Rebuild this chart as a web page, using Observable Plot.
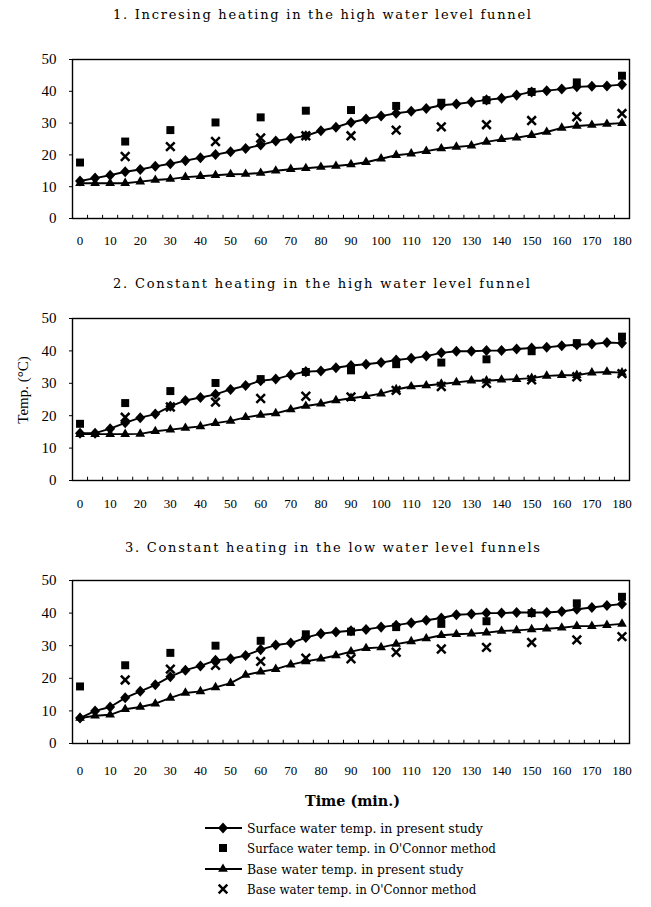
<!DOCTYPE html>
<html>
<head>
<meta charset="utf-8">
<script src="https://cdn.jsdelivr.net/npm/d3@7"></script>
<script src="https://cdn.jsdelivr.net/npm/@observablehq/plot@0.6"></script>
<style>
  html, body { margin: 0; padding: 0; background: #fff; }
  #chart { position: relative; width: 651px; height: 907px; background: #fff; overflow: hidden; }
  #chart svg.panel { position: absolute; left: 0; }
  #chart svg.panel g[aria-label^="y-axis"] text { font-size: 15px; }
  #chart svg.panel g[aria-label^="x-axis"] text { font-size: 13px; }
  #overlay { position: absolute; left: 0; top: 0; }
</style>
</head>
<body>
<div id="chart"></div>
<script>
// ---------------- data ----------------
const minutes = [0,5,10,15,20,25,30,35,40,45,50,55,60,65,70,75,80,85,90,95,100,105,110,115,120,125,130,135,140,145,150,155,160,165,170,175,180];
const squareMinutes = [0,15,30,45,60,75,90,105,120,135,150,165,180];
const crossMinutes = [15,30,45,60,75,90,105,120,135,150,165,180];
const xTickLabels = [0,10,20,30,40,50,60,70,80,90,100,110,120,130,140,150,160,170,180];
const xTickMarks = [2.5,7.5,12.5,17.5,22.5,27.5,32.5,37.5,42.5,47.5,52.5,57.5,62.5,67.5,72.5,77.5,82.5,87.5,92.5,97.5,102.5,107.5,112.5,117.5,122.5,127.5,132.5,137.5,142.5,147.5,152.5,157.5,162.5,167.5,172.5,177.5];
const yTicks = [0,10,20,30,40,50];

const panelTitles = [
  "1. Incresing heating in the high water level funnel",
  "2. Constant heating in the high water level funnel",
  "3. Constant heating in the low water level funnels"
];
const seriesNames = [
  "Surface water temp. in present study",
  "Surface water temp. in O'Connor method",
  "Base water temp. in present study",
  "Base water temp. in O'Connor method"
];
const yAxisTitle = "Temp.  (\u00B0C)";
const xAxisTitle = "Time (min.)";

// Panel 1: increasing heating, high water level
const p1Surface = [11.8,12.7,13.6,14.7,15.4,16.4,17.2,18.2,19.1,20.1,21.0,22.0,23.1,24.4,25.2,26.0,27.6,28.7,30.2,31.3,32.2,33.1,33.7,34.6,35.6,36.0,36.6,37.3,37.8,38.8,39.8,40.2,40.7,41.4,41.6,41.7,42.1];
const p1Base    = [11.1,11.1,11.1,11.1,11.6,12.1,12.4,13.0,13.3,13.6,13.9,14.0,14.3,15.0,15.5,15.8,16.2,16.5,17.0,17.7,18.8,19.9,20.4,21.2,22.0,22.5,22.9,24.1,24.9,25.4,26.2,27.2,28.5,29.1,29.4,29.7,30.0];
const p1SurfOC  = [17.6,24.2,27.8,30.2,31.8,33.9,34.1,35.4,36.4,37.2,39.8,42.8,44.9];
const p1BaseOC  = [19.5,22.6,24.2,25.3,26.0,26.0,27.8,28.8,29.5,30.8,32.0,33.0];

// Panel 2: constant heating, high water level
const p2Surface = [14.6,14.6,16.0,17.8,19.4,20.5,22.9,24.7,25.6,26.6,28.1,29.3,30.8,31.3,32.6,33.6,33.8,34.8,35.5,35.9,36.4,37.2,37.7,38.4,39.4,39.9,39.9,40.1,40.1,40.6,40.9,41.1,41.6,41.9,42.1,42.6,42.4];
const p2Base    = [14.3,14.3,14.3,14.3,14.4,15.2,15.7,16.2,16.7,17.7,18.4,19.5,20.2,20.7,21.9,23.0,23.7,24.7,25.4,26.0,26.8,28.1,29.0,29.3,29.8,30.3,30.8,30.8,31.1,31.3,31.6,32.3,32.5,32.5,33.3,33.5,33.3];
const p2SurfOC  = [17.5,23.9,27.6,30.1,31.3,33.5,34.0,35.9,36.4,37.4,39.9,42.4,44.4];
const p2BaseOC  = [19.5,22.7,24.2,25.3,26.0,25.8,27.8,29.0,30.0,31.1,32.0,33.0];

// Panel 3: constant heating, low water level
const p3Surface = [7.8,10.0,11.2,14.0,16.0,18.0,20.5,22.5,23.8,25.5,26.0,27.0,28.8,30.2,30.8,32.5,33.7,34.2,34.6,35.0,35.7,36.3,37.0,37.8,38.5,39.5,39.7,40.0,40.0,40.2,40.2,40.2,40.5,41.2,41.7,42.3,42.8];
const p3Base    = [7.8,8.5,8.8,10.5,11.2,12.2,14.0,15.5,16.0,17.2,18.5,21.0,22.0,22.8,24.2,25.2,26.0,27.0,28.2,29.2,29.5,30.5,31.3,32.2,33.2,33.5,33.7,34.0,34.5,34.7,35.0,35.2,35.5,36.0,36.0,36.3,36.7];
const p3SurfOC  = [17.5,24.0,27.8,30.0,31.5,33.5,34.3,35.7,36.7,37.5,40.0,43.0,45.0];
const p3BaseOC  = [19.5,22.8,24.0,25.2,26.2,26.0,28.0,29.0,29.5,31.0,31.8,32.8];

// ---------------- helpers ----------------
const FONT = "'Liberation Serif', 'DejaVu Serif', serif";
const TEXT_FONT = "'DejaVu Serif', 'Liberation Serif', serif";

// Excel-like diamond marker (about as wide as it is tall)
const excelDiamond = {
  draw(context, size) {
    const a = Math.sqrt(size / 2);
    context.moveTo(0, -a * 1.1);
    context.lineTo(a, 0);
    context.lineTo(0, a * 1.1);
    context.lineTo(-a, 0);
    context.closePath();
  }
};

const toRows = (ts, vs) => ts.map((t, i) => ({t, v: vs[i]}));

function panel({surface, base, surfOC, baseOC, top, innerHeight, labelPad}) {
  const mt = 19, mb = 44;
  const svg = Plot.plot({
    width: 651,
    height: mt + innerHeight + mb,
    marginLeft: 72,
    marginRight: 22,
    marginTop: mt,
    marginBottom: mb,
    style: {fontFamily: FONT, fontSize: "13px", color: "black", background: "white", overflow: "visible"},
    x: {domain: [-2.5, 182.5], ticks: xTickLabels, tickSize: 0, tickPadding: labelPad, tickFormat: d => String(d), label: null},
    y: {domain: [0, 50], ticks: yTicks, tickSize: 3, tickPadding: 13, tickFormat: d => String(d), label: null},
    marks: [
      Plot.ruleX(xTickMarks, {x: d => d, y1: 0, y2: 1, stroke: "black", strokeWidth: 1}),
      Plot.frame({stroke: "black", strokeWidth: 1.4}),
      Plot.line(toRows(minutes, base), {x: "t", y: "v", stroke: "black", strokeWidth: 1.9}),
      Plot.line(toRows(minutes, surface), {x: "t", y: "v", stroke: "black", strokeWidth: 1.9}),
      Plot.dot(toRows(squareMinutes, surfOC), {x: "t", y: "v", symbol: "square", r: 4.5, fill: "black", stroke: "none"}),
      Plot.dot(toRows(crossMinutes, baseOC), {x: "t", y: "v", symbol: "times", r: 4, fill: "none", stroke: "black", strokeWidth: 2.5}),
      Plot.dot(toRows(minutes, base), {x: "t", y: "v", symbol: "triangle", r: 3.6, fill: "black", stroke: "none"}),
      Plot.dot(toRows(minutes, surface), {x: "t", y: "v", symbol: excelDiamond, r: 4, fill: "black", stroke: "none"})
    ]
  });
  svg.classList.add("panel");
  svg.style.top = (top - mt) + "px";
  return svg;
}

const chart = document.getElementById("chart");
chart.appendChild(panel({surface: p1Surface, base: p1Base, surfOC: p1SurfOC, baseOC: p1BaseOC, top: 59, innerHeight: 159, labelPad: 17}));
chart.appendChild(panel({surface: p2Surface, base: p2Base, surfOC: p2SurfOC, baseOC: p2BaseOC, top: 318, innerHeight: 162, labelPad: 18}));
chart.appendChild(panel({surface: p3Surface, base: p3Base, surfOC: p3SurfOC, baseOC: p3BaseOC, top: 580, innerHeight: 163, labelPad: 22}));

// ---------------- titles, axis titles, legend ----------------
const overlay = d3.select(chart).append("svg")
  .attr("id", "overlay")
  .attr("width", 651).attr("height", 907)
  .style("font-family", TEXT_FONT);

const titleSpecs = [
  {x: 113, y: 19, len: 418},
  {x: 113, y: 288, len: 417},
  {x: 125, y: 552, len: 415}
];
overlay.selectAll("text.ptitle").data(panelTitles).join("text")
  .attr("class", "ptitle")
  .attr("x", (d, i) => titleSpecs[i].x)
  .attr("y", (d, i) => titleSpecs[i].y)
  .attr("textLength", (d, i) => titleSpecs[i].len)
  .attr("lengthAdjust", "spacing")
  .style("font-size", "13px")
  .text(d => d);

overlay.append("text")
  .attr("transform", "translate(28,390) rotate(-90)")
  .attr("text-anchor", "middle")
  .style("font-family", FONT)
  .style("font-size", "15px")
  .text(yAxisTitle);

overlay.append("text")
  .attr("x", 305).attr("y", 806)
  .attr("textLength", 95).attr("lengthAdjust", "spacingAndGlyphs")
  .style("font-size", "14px").style("font-weight", "bold")
  .text(xAxisTitle);

const legendRows = [828, 848, 869, 889];
const legendSymbols = [
  {line: true, symbol: excelDiamond, r: 4, fill: "black", stroke: "none"},
  {line: false, symbol: d3.symbolSquare, r: 4.5, fill: "black", stroke: "none"},
  {line: true, symbol: d3.symbolTriangle, r: 3.6, fill: "black", stroke: "none"},
  {line: false, symbol: d3.symbolTimes, r: 4, fill: "none", stroke: "black"}
];
const lg = overlay.append("g");
seriesNames.forEach((name, i) => {
  const y = legendRows[i], s = legendSymbols[i];
  if (s.line) {
    lg.append("line").attr("x1", 205).attr("x2", 242).attr("y1", y).attr("y2", y)
      .attr("stroke", "black").attr("stroke-width", 1.9);
  }
  lg.append("path")
    .attr("transform", `translate(223,${y})`)
    .attr("d", d3.symbol(s.symbol, Math.PI * s.r * s.r)())
    .attr("fill", s.fill).attr("stroke", s.stroke).attr("stroke-width", 2.5);
  lg.append("text")
    .attr("x", 247).attr("y", y + 4.5)
    .attr("textLength", name.length * 6.55).attr("lengthAdjust", "spacingAndGlyphs")
    .style("font-size", "12px")
    .text(name);
});
</script>
</body>
</html>
